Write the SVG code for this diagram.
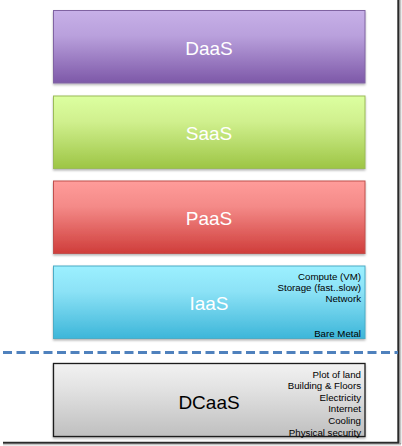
<svg xmlns="http://www.w3.org/2000/svg" width="402" height="446" viewBox="0 0 402 446">
<defs>
<linearGradient id="gD" x1="0" y1="0" x2="0" y2="1"><stop offset="0" stop-color="#c7b0e8"/><stop offset="0.35" stop-color="#b9a0dc"/><stop offset="1" stop-color="#7d58a8"/></linearGradient>
<linearGradient id="gS" x1="0" y1="0" x2="0" y2="1"><stop offset="0" stop-color="#dcffa0"/><stop offset="0.35" stop-color="#d0f08e"/><stop offset="1" stop-color="#9dc545"/></linearGradient>
<linearGradient id="gP" x1="0" y1="0" x2="0" y2="1"><stop offset="0" stop-color="#ff9c9a"/><stop offset="0.35" stop-color="#f48a88"/><stop offset="1" stop-color="#cf3d3a"/></linearGradient>
<linearGradient id="gI" x1="0" y1="0" x2="0" y2="1"><stop offset="0" stop-color="#9cf0ff"/><stop offset="0.35" stop-color="#8ce2f6"/><stop offset="1" stop-color="#3db6d9"/></linearGradient>
<linearGradient id="gC" x1="0" y1="0" x2="0" y2="1"><stop offset="0" stop-color="#f2f2f2"/><stop offset="0.35" stop-color="#e2e2e2"/><stop offset="1" stop-color="#bfbfbf"/></linearGradient>
<linearGradient id="gR" x1="0" y1="0" x2="1" y2="0"><stop offset="0" stop-color="#888"/><stop offset="1" stop-color="#fff"/></linearGradient>
<linearGradient id="gB" x1="0" y1="0" x2="0" y2="1"><stop offset="0" stop-color="#888"/><stop offset="1" stop-color="#fff"/></linearGradient>
<filter id="sh" x="-5%" y="-5%" width="110%" height="120%"><feDropShadow dx="0" dy="1.5" stdDeviation="1" flood-color="#000" flood-opacity="0.3"/></filter>
</defs>
<style>
.big{font-family:"Liberation Sans",Arial,sans-serif;font-size:19px;text-anchor:middle;fill:#fff}
.dc{fill:#000}
.sm{font-family:"Liberation Sans",Arial,sans-serif;font-size:9.7px;text-anchor:end;fill:#000}
</style>
<g id="frame">
<rect x="399" y="0" width="3" height="444" fill="url(#gR)"/>
<rect x="3" y="443" width="398" height="3" fill="url(#gB)"/>
<line x1="398.2" y1="0" x2="398.2" y2="443" stroke="#2a2a2a" stroke-width="1.8"/>
<line x1="3" y1="442.6" x2="399" y2="442.6" stroke="#2a2a2a" stroke-width="1.8"/>
</g>
<g id="daas">
<rect x="53.5" y="10.5" width="311.5" height="72.5" fill="url(#gD)" stroke="#8064a2" filter="url(#sh)"/>
<text class="big" x="209" y="54.5">DaaS</text>
</g>
<g id="saas">
<rect x="53.5" y="96" width="311.5" height="72.5" fill="url(#gS)" stroke="#9bbb59" filter="url(#sh)"/>
<text class="big" x="209" y="140">SaaS</text>
</g>
<g id="paas">
<rect x="53.5" y="181" width="311.5" height="72.5" fill="url(#gP)" stroke="#c0504d" filter="url(#sh)"/>
<text class="big" x="209" y="225">PaaS</text>
</g>
<g id="iaas">
<rect x="53.5" y="266" width="311.5" height="72.5" fill="url(#gI)" stroke="#4bacc6" filter="url(#sh)"/>
<text class="big" x="209" y="310">IaaS</text>
<text class="sm" x="361" y="280">Compute (VM)</text>
<text class="sm" x="361" y="291">Storage (fast..slow)</text>
<text class="sm" x="361" y="302">Network</text>
<text class="sm" x="361" y="337">Bare Metal</text>
</g>
<g id="connectors">
<line x1="3" y1="352.5" x2="398" y2="352.5" stroke="#4f81bd" stroke-width="3" stroke-dasharray="9,4.5"/>
</g>
<g id="dcaas">
<rect x="53.5" y="363.5" width="311.5" height="73" fill="url(#gC)" stroke="#1a1a1a" stroke-width="1.3" filter="url(#sh)"/>
<text class="big dc" x="209" y="408.5">DCaaS</text>
<text class="sm" x="361" y="377.5">Plot of land</text>
<text class="sm" x="361" y="389">Building &amp; Floors</text>
<text class="sm" x="361" y="400.7">Electricity</text>
<text class="sm" x="361" y="412.4">Internet</text>
<text class="sm" x="361" y="424">Cooling</text>
<text class="sm" x="361" y="435.6">Physical security</text>
</g>
</svg>
